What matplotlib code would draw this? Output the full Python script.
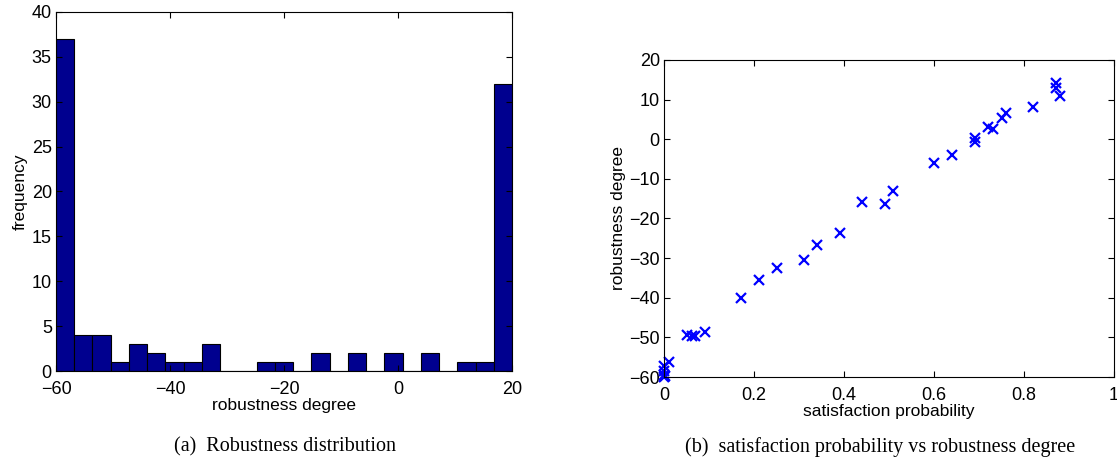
import matplotlib
matplotlib.use("Agg")
import matplotlib.pyplot as plt
import numpy as np

# histogram of robustness degree (25 bins between -60 and 20)
bin_range = (-60, 20)
counts = [37, 4, 4, 1, 3, 2, 1, 1, 3, 0, 0, 1, 1, 0, 2, 0, 2, 0, 2, 0, 2, 0, 1, 1, 32]

# satisfaction probability vs robustness degree
sat_prob = [0.870, 0.870, 0.881, 0.820, 0.761, 0.751, 0.719, 0.731, 0.691, 0.691,
            0.640, 0.600, 0.509, 0.491, 0.440, 0.390, 0.340, 0.310, 0.251, 0.211,
            0.171, 0.090, 0.069, 0.062, 0.050, 0.010, 0.0, 0.0, 0.0, 0.002, 0.001]
robustness = [14.3, 12.9, 10.9, 8.1, 6.7, 5.4, 3.0, 2.5, 0.4, -0.7,
              -4.0, -6.0, -13.0, -16.3, -15.9, -23.7, -26.6, -30.5, -32.4, -35.5,
              -40.1, -48.7, -49.6, -49.6, -49.4, -56.1, -57.3, -58.6, -59.4, -59.8, -60.0]

plt.rcParams['font.family'] = ['Liberation Sans', 'DejaVu Sans']
plt.rcParams['xtick.direction'] = 'in'
plt.rcParams['ytick.direction'] = 'in'
plt.rcParams['xtick.top'] = True
plt.rcParams['ytick.right'] = True

fig = plt.figure(figsize=(11.17, 4.65), dpi=100)
W, H = 1117, 465

def box(l, t, r, b):
    return [l / W, 1 - b / H, (r - l) / W, (b - t) / H]

# (a) histogram
ax1 = fig.add_axes(box(56, 12, 512, 371))
edges = np.linspace(bin_range[0], bin_range[1], len(counts) + 1)
ax1.bar(edges[:-1], counts, width=np.diff(edges), align='edge',
        color='#00008F', edgecolor='black', linewidth=0.8)
ax1.set_xlim(-60, 20)
ax1.set_ylim(0, 40)
ax1.set_xticks([-60, -40, -20, 0, 20])
ax1.set_yticks(range(0, 41, 5))
ax1.set_xlabel('robustness degree', fontsize=12.5, labelpad=0)
ax1.set_ylabel('frequency', fontsize=12.5, labelpad=3)

# (b) scatter
ax2 = fig.add_axes(box(664, 60, 1114, 377))
ax2.plot(sat_prob, robustness, 'x', color='blue', markersize=7.5, mew=1.6,
         clip_on=False)
ax2.set_xlim(0, 1)
ax2.set_ylim(-60, 20)
ax2.set_xticks([0, 0.2, 0.4, 0.6, 0.8, 1])
ax2.set_xticklabels(['0', '0.2', '0.4', '0.6', '0.8', '1'])
ax2.set_yticks(range(-60, 21, 10))
ax2.set_xlabel('satisfaction probability', fontsize=12.5, labelpad=0)
ax2.set_ylabel('robustness degree', fontsize=12.5, labelpad=2)

for ax in (ax1, ax2):
    ax.tick_params(labelsize=13, length=4, width=0.8)
    ax.tick_params(axis='x', pad=7)
    ax.tick_params(axis='y', pad=3)
    for s in ax.spines.values():
        s.set_linewidth(0.8)

fig.text(285 / W, 1 - 447 / H, '(a)  Robustness distribution', ha='center', va='center',
         fontsize=14.5, family='Liberation Serif')
fig.text(880 / W, 1 - 447 / H, '(b)  satisfaction probability vs robustness degree',
         ha='center', va='center', fontsize=14.5, family='Liberation Serif')

fig.savefig('out.png', dpi=100)
